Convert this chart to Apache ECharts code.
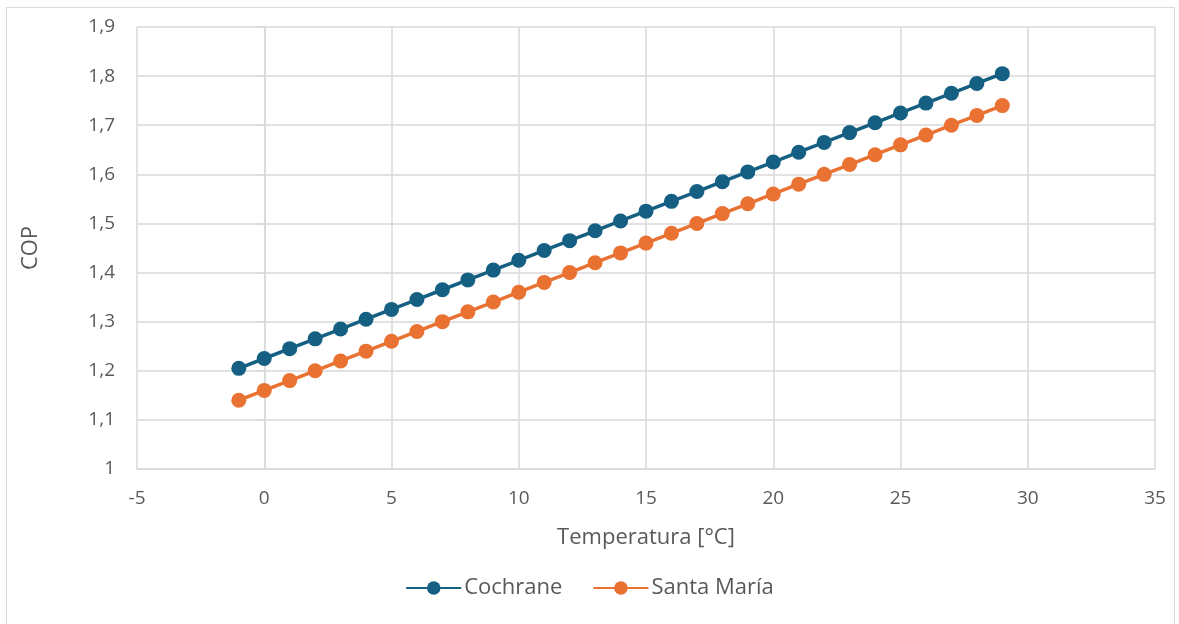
<!DOCTYPE html>
<html>
<head>
<meta charset="utf-8">
<script src="https://cdn.jsdelivr.net/npm/echarts@6/dist/echarts.min.js"></script>
<style>
  html, body { margin: 0; padding: 0; background: #fff; }
  #frame { position: absolute; left: 6px; top: 7px; width: 1169px; height: 640px; border: 1.5px solid #d9d9d9; box-sizing: border-box; }
  #chart { position: absolute; left: 0; top: 0; width: 1179px; height: 624px; }
</style>
</head>
<body>
<div id="frame"></div>
<div id="chart"></div>
<script>
// Temperature points (°C)
const temperatures = [-1, 0, 1, 2, 3, 4, 5, 6, 7, 8, 9, 10, 11, 12, 13, 14, 15, 16, 17, 18, 19, 20, 21, 22, 23, 24, 25, 26, 27, 28, 29];
// COP per site
const cochrane = [1.205, 1.225, 1.245, 1.265, 1.285, 1.305, 1.325, 1.345, 1.365, 1.385, 1.405, 1.425, 1.445, 1.465, 1.485, 1.505, 1.525, 1.545, 1.565, 1.585, 1.605, 1.625, 1.645, 1.665, 1.685, 1.705, 1.725, 1.745, 1.765, 1.785, 1.805];
const santaMaria = [1.14, 1.16, 1.18, 1.20, 1.22, 1.24, 1.26, 1.28, 1.30, 1.32, 1.34, 1.36, 1.38, 1.40, 1.42, 1.44, 1.46, 1.48, 1.50, 1.52, 1.54, 1.56, 1.58, 1.60, 1.62, 1.64, 1.66, 1.68, 1.70, 1.72, 1.74];
const seriesNames = ['Cochrane', 'Santa María'];
const xAxisTitle = 'Temperatura [°C]';
const yAxisTitle = 'COP';

const FONT = '"Open Sans", "Noto Sans", sans-serif';
const TEXT = '#595959';
const GRID = '#d9d9d9';

const pairs = (ys) => temperatures.map((t, i) => [t, ys[i]]);
const comma = (v) => String(+v.toFixed(1)).replace('.', ',');

const chart = echarts.init(document.getElementById('chart'), null, { renderer: 'canvas' });
chart.setOption({
  animation: false,
  grid: { left: 137, right: 24, top: 27, bottom: 155 },
  legend: {
    bottom: 20,
    left: 'center',
    itemWidth: 55,
    itemHeight: 17,
    itemGap: 30,
    textStyle: { color: TEXT, fontSize: 22, fontFamily: FONT, padding: [0, 0, 0, -2] },
    data: seriesNames
  },
  xAxis: {
    type: 'value',
    min: -5, max: 35, interval: 5,
    name: xAxisTitle,
    nameLocation: 'middle',
    nameGap: 58,
    nameTextStyle: { color: TEXT, fontSize: 22, fontFamily: FONT },
    axisLine: { show: true, onZero: false, lineStyle: { color: GRID, width: 1.5 } },
    axisTick: { show: false },
    axisLabel: { color: TEXT, fontSize: 19, fontFamily: FONT, margin: 20 },
    splitLine: { show: true, lineStyle: { color: GRID, width: 1.5 } }
  },
  yAxis: {
    type: 'value',
    min: 1, max: 1.9, interval: 0.1,
    name: yAxisTitle,
    nameLocation: 'middle',
    nameGap: 95,
    nameRotate: 90,
    nameTextStyle: { color: TEXT, fontSize: 22, fontFamily: FONT },
    axisLine: { show: true, lineStyle: { color: GRID, width: 1.5 } },
    axisTick: { show: true, length: 7, lineStyle: { color: GRID, width: 1.5 } },
    axisLabel: { color: TEXT, fontSize: 19, fontFamily: FONT, margin: 22, formatter: comma },
    splitLine: { show: true, lineStyle: { color: GRID, width: 1.5 } }
  },
  series: [
    {
      name: seriesNames[0], type: 'line', data: pairs(cochrane),
      symbol: 'circle', symbolSize: 15,
      lineStyle: { color: '#156082', width: 3.5 },
      itemStyle: { color: '#156082' }
    },
    {
      name: seriesNames[1], type: 'line', data: pairs(santaMaria),
      symbol: 'circle', symbolSize: 15,
      lineStyle: { color: '#E97132', width: 3.5 },
      itemStyle: { color: '#E97132' }
    }
  ]
});
</script>
</body>
</html>
